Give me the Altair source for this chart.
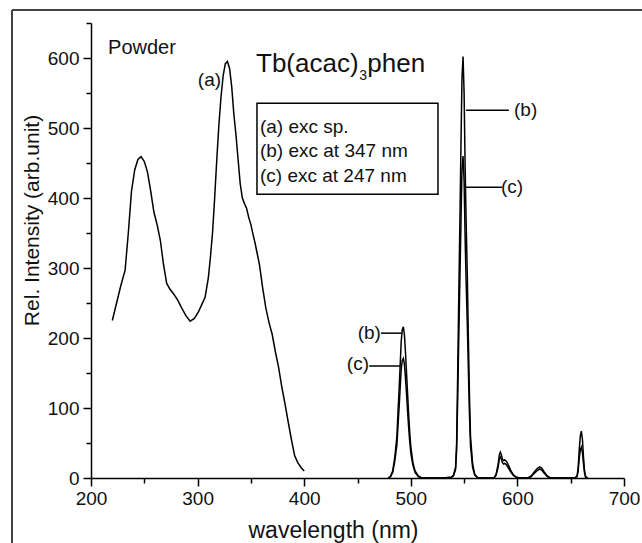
import altair as alt
import pandas as pd

# ---------------- data ----------------
exc_wl = [220, 224, 228, 232, 235, 238, 241, 244, 247, 250,
          253, 256, 259, 262, 265, 268, 271, 274, 277, 281,
          285, 289, 293, 297, 301, 304, 307, 310, 312, 314,
          316, 318, 320, 322, 324, 326, 328, 330, 332, 334,
          336, 338, 340, 342, 344, 346, 348, 350, 352, 354,
          356, 358, 361, 364, 367, 370, 373, 376, 379, 382,
          385, 388, 391, 394, 397, 400]
exc_val = [225, 250, 275, 297, 350, 410, 440, 455, 459, 452,
           437, 410, 380, 362, 340, 305, 278, 270, 264, 255,
           243, 232, 224, 228, 238, 248, 258, 285, 315, 350,
           400, 455, 505, 545, 575, 592, 595, 585, 559, 520,
           490, 455, 420, 400, 392, 385, 372, 362, 348, 335,
           320, 305, 272, 243, 222, 205, 180, 158, 130, 106,
           80, 55, 32, 22, 15, 10]

em_wl = [479, 481, 483, 485, 487, 488, 489, 490, 491, 492,
         493, 494, 495, 496, 497, 498, 499, 500, 502, 504,
         507, 510, 520, 530, 538, 540, 542, 543, 544, 545,
         546, 547, 548, 549, 550, 551, 552, 553, 554, 555,
         556, 558, 560, 563, 570, 578, 580, 582, 583, 584,
         585, 586, 587, 588, 589, 590, 592, 594, 596, 599,
         602, 610, 613, 616, 619, 621, 623, 625, 628, 631,
         640, 654, 656, 657, 658, 659, 660, 661, 662, 663,
         664, 666]
em_b = [0, 2, 10, 30, 60, 95, 125, 160, 195, 212,
        216, 205, 180, 150, 120, 90, 65, 45, 22, 10,
        3, 0, 0, 0, 1, 4, 15, 50, 150, 260,
        360, 470, 570, 602, 550, 440, 360, 290, 200, 120,
        60, 20, 5, 0, 0, 0, 5, 20, 33, 37,
        33, 27, 25, 26, 25, 23, 17, 10, 5, 1,
        0, 0, 3, 9, 14, 16, 14, 9, 3, 0,
        0, 0, 3, 15, 40, 60, 67, 55, 30, 10,
        2, 0]
em_c = [0, 2, 8, 24, 48, 75, 100, 128, 155, 168,
        171, 163, 143, 120, 95, 72, 52, 36, 18, 8,
        2, 0, 0, 0, 1, 3, 12, 40, 115, 200,
        280, 360, 440, 460, 425, 340, 275, 220, 155, 92,
        46, 15, 4, 0, 0, 0, 4, 16, 27, 30,
        27, 22, 20, 21, 20, 18, 13, 8, 4, 1,
        0, 0, 2, 7, 11, 13, 11, 7, 2, 0,
        0, 0, 2, 10, 28, 40, 44, 36, 20, 7,
        1, 0]

x_major = [200, 300, 400, 500, 600, 700]
x_minor = [250, 350, 450, 550, 650]
y_major = [0, 100, 200, 300, 400, 500, 600]
y_minor = [50, 150, 250, 350, 450, 550, 650]

legend_lines = ["(a) exc sp.", "(b) exc at 347 nm", "(c) exc at 247 nm"]
legend_vals = [501, 467, 431]

# ---------------- tables ----------------
curves = pd.concat([
    pd.DataFrame({"wl": exc_wl, "val": exc_val, "series": "a"}),
    pd.DataFrame({"wl": em_wl, "val": em_b, "series": "b"}),
    pd.DataFrame({"wl": em_wl, "val": em_c, "series": "c"}),
], ignore_index=True)

FONT = "Liberation Sans"
INK = "#111111"
xs = alt.Scale(domain=[200, 700], nice=False, zero=False)
ys = alt.Scale(domain=[0, 650], nice=False, zero=False)

x_axis = alt.Axis(values=x_major, orient="bottom", grid=False, tickSize=8, tickWidth=1.5,
                  tickColor="black", domainColor="black", domainWidth=1.5,
                  labelFont=FONT, labelFontSize=19, labelColor=INK, labelPadding=3,
                  labelFlush=False, labelOverlap=False,
                  title="wavelength (nm)", titleFont=FONT, titleFontSize=23,
                  titleFontWeight="normal", titleColor=INK, titleX=242, titleY=59,
                  titleBaseline="alphabetic", titleAlign="center")
y_axis = alt.Axis(values=y_major, orient="left", grid=False, tickSize=8, tickWidth=1.5,
                  tickColor="black", domainColor="black", domainWidth=1.5,
                  labelFont=FONT, labelFontSize=19, labelColor=INK, labelPadding=4,
                  labelFlush=False, labelOverlap=False,
                  title="Rel. Intensity (arb.unit)", titleFont=FONT, titleFontSize=21,
                  titleFontWeight="normal", titleColor=INK, titleX=-53, titleY=197,
                  titleAngle=270, titleBaseline="alphabetic", titleAlign="center")
x_minor_axis = alt.Axis(values=x_minor, orient="bottom", grid=False, tickSize=5, tickWidth=1.5,
                        tickColor="black", labels=False, domain=False, title=None)
y_minor_axis = alt.Axis(values=y_minor, orient="left", grid=False, tickSize=5, tickWidth=1.5,
                        tickColor="black", labels=False, domain=False, title=None)

lines = alt.Chart(curves).mark_line(color="black", strokeWidth=1.5).encode(
    x=alt.X("wl:Q", scale=xs, axis=x_axis),
    y=alt.Y("val:Q", scale=ys, axis=y_axis),
    detail="series:N",
)
minor = alt.Chart(curves).mark_line(opacity=0).encode(
    x=alt.X("wl:Q", scale=xs, axis=x_minor_axis),
    y=alt.Y("val:Q", scale=ys, axis=y_minor_axis),
    detail="series:N",
)

def text_layer(df, size, align, baseline):
    return alt.Chart(df).mark_text(font=FONT, fontSize=size, align=align,
                                   baseline=baseline, color=INK).encode(
        x=alt.X("wl:Q", scale=xs, axis=None),
        y=alt.Y("val:Q", scale=ys, axis=None),
        text="t:N",
    )

powder = text_layer(pd.DataFrame({"t": ["Powder"], "wl": [216], "val": [614]}), 20, "left", "middle")
title_main = text_layer(pd.DataFrame({"t": ["Tb(acac)"], "wl": [354.8], "val": [580]}),
                        26, "left", "alphabetic")
title_sub = text_layer(pd.DataFrame({"t": ["3"], "wl": [451.6], "val": [568]}), 14, "left", "alphabetic")
title_end = text_layer(pd.DataFrame({"t": ["phen"], "wl": [459.2], "val": [580]}),
                       26, "left", "alphabetic")
legend_text = text_layer(pd.DataFrame({"t": legend_lines, "wl": [358.5] * 3, "val": legend_vals}),
                         19, "left", "middle")
lab_right = text_layer(pd.DataFrame({"t": ["(a)", "(b)", "(c)"], "wl": [322, 472, 460.8],
                                     "val": [568.5, 207, 162.5]}), 19, "right", "middle")
lab_left = text_layer(pd.DataFrame({"t": ["(b)", "(c)"], "wl": [596.8, 584.6],
                                    "val": [525.5, 415.3]}), 19, "left", "middle")

pointers = alt.Chart(pd.DataFrame({
    "x1": [551.8, 551.8, 472, 461], "x2": [592, 585.5, 491.5, 490],
    "val": [525.5, 415.3, 206.9, 160]})).mark_rule(color="black", strokeWidth=1.5).encode(
    x=alt.X("x1:Q", scale=xs, axis=None), x2="x2:Q",
    y=alt.Y("val:Q", scale=ys, axis=None),
)

legend_box = alt.Chart(pd.DataFrame({"x1": [355.7], "x2": [525.5], "y1": [535.5], "y2": [405.4]})).mark_rect(
    fillOpacity=0, stroke="black", strokeWidth=1.5).encode(
    x=alt.X("x1:Q", scale=xs, axis=None), x2="x2:Q",
    y=alt.Y("y1:Q", scale=ys, axis=None), y2="y2:Q",
)

one = pd.DataFrame({"k": [0]})
frame_top = alt.Chart(one).mark_rule(color="#444444", strokeWidth=2).encode(
    x=alt.value(-79), x2=alt.value(560), y=alt.value(-13))
frame_left = alt.Chart(one).mark_rule(color="#444444", strokeWidth=2).encode(
    x=alt.value(-79), y=alt.value(-13), y2=alt.value(530))

chart = alt.layer(
    frame_top, frame_left, lines, minor, legend_box, pointers,
    powder, title_main, title_sub, title_end, legend_text, lab_right, lab_left,
).resolve_axis(x="independent", y="independent").properties(
    width=533, height=455,
    padding={"left": 91, "top": 23, "right": 18, "bottom": 65},
    autosize=alt.AutoSizeParams(type="none"),
).configure_view(stroke=None)

chart.save("out.html", embed_options={"renderer": "svg", "actions": False})
